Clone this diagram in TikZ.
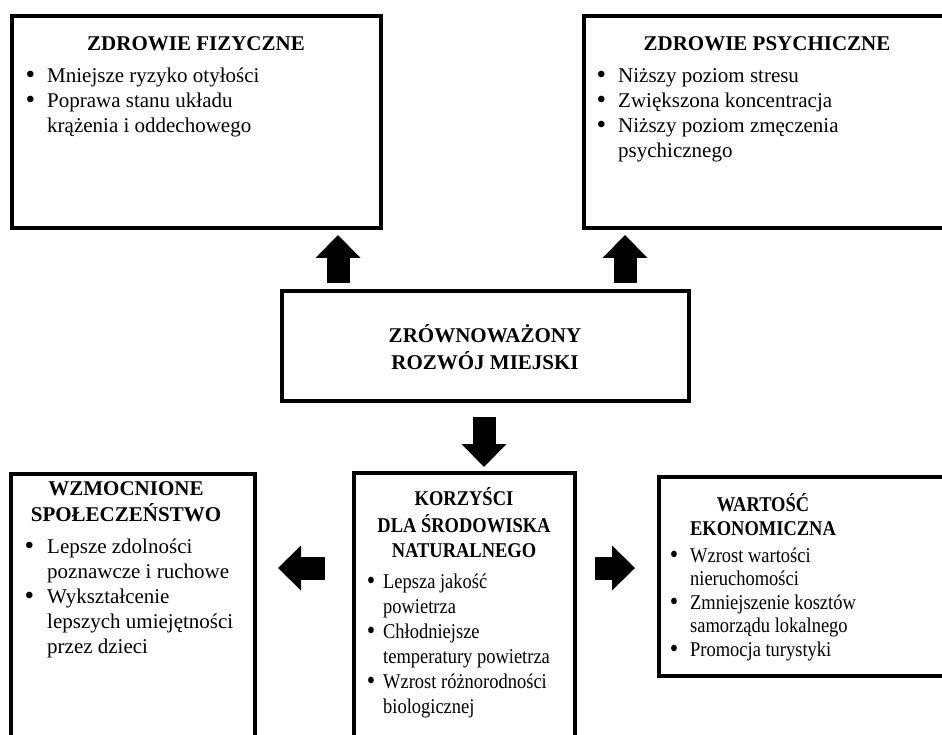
\documentclass[tikz,border=0pt]{standalone}
\usepackage{fontspec}
\setmainfont{Liberation Serif}
\usetikzlibrary{arrows.meta}
\newcommand{\bpt}[1]{\strut\makebox[#1][l]{\raisebox{-1pt}{\scalebox{1.3}{\textbullet}}}}
\newcommand{\bcnt}[1]{\strut\hspace*{#1}}

\begin{document}
\begin{tikzpicture}
[x=1pt,y=-1pt,
 box/.style={draw,line width=4pt,anchor=north west,inner sep=0pt},
 ttl/.style={anchor=north,align=center,inner sep=0pt,font=\fontsize{21}{25}\selectfont\bfseries},
 lst/.style={anchor=north west,align=left,inner sep=0pt,font=\fontsize{21}{25}\selectfont},
 blk/.style={line width=23pt,-{Triangle[width=45pt,length=23pt,line width=0pt]}}]
\useasboundingbox (0,0) rectangle (942,735);
\clip (0,0) rectangle (942,735);
% boxes
\node[box,minimum width=369pt,minimum height=212pt] (fiz) at (10,14) {};
\node[box,minimum width=366pt,minimum height=212pt] (psy) at (582,14) {};
\node[box,minimum width=407pt,minimum height=110pt] (ctr) at (280,289) {};
\node[box,minimum width=244pt,minimum height=284pt] (soc) at (9,472) {};
\node[box,minimum width=221pt,minimum height=285pt] (env) at (352,471) {};
\node[box,minimum width=299pt,minimum height=199pt] (eco) at (657,475) {};
% texts
\node[ttl] (fizt) at (196,32.5) {\strut ZDROWIE FIZYCZNE};
\node[lst] (fizl) at (25.3,65) {\bpt{21.7pt}Mniejsze ryzyko otyłości\\
 \bpt{21.7pt}Poprawa stanu układu\\ \bcnt{21.7pt}krążenia i oddechowego};
\node[ttl] (psyt) at (767,32.5) {\strut ZDROWIE PSYCHICZNE};
\node[lst] (psyl) at (596.3,64.5) {\bpt{21.7pt}Niższy poziom stresu\\
 \bpt{21.7pt}Zwiększona koncentracja\\ \bpt{21.7pt}Niższy poziom zmęczenia\\
 \bcnt{21.7pt}psychicznego};
\node[ttl] (ctrt) at (485,324.5) {\strut ZRÓWNOWAŻONY\\ ROZWÓJ MIEJSKI};
\node[ttl] (soct) at (126,477.5) {\strut WZMOCNIONE\\ SPOŁECZEŃSTWO};
\node[lst] (socl) at (24.3,535.5) {\bpt{22.7pt}Lepsze zdolności\\
 \bcnt{22.7pt}poznawcze i ruchowe\\ \bpt{22.7pt}Wykształcenie\\
 \bcnt{22.7pt}lepszych umiejętności\\ \bcnt{22.7pt}przez dzieci};
\node[ttl,xscale=0.88] (envt) at (464,487.5) {\strut KORZYŚCI\\ DLA ŚRODOWISKA\\ NATURALNEGO};
\node[lst,xscale=0.88] (envl) at (366.7,570.5) {\bpt{18.5pt}Lepsza jakość\\
 \bcnt{18.5pt}powietrza\\ \bpt{18.5pt}Chłodniejsze\\
 \bcnt{18.5pt}temperatury powietrza\\ \bpt{18.5pt}Wzrost różnorodności\\
 \bcnt{18.5pt}biologicznej};
\node[ttl,xscale=0.88,font=\fontsize{21}{23.5}\selectfont\bfseries] (ecot) at (763,493.5) {\strut WARTOŚĆ\\ EKONOMICZNA};
\node[lst,xscale=0.88,font=\fontsize{21}{23.5}\selectfont] (ecol) at (669.7,545.5) {\bpt{23pt}Wzrost wartości\\
 \bcnt{23pt}nieruchomości\\ \bpt{23pt}Zmniejszenie kosztów\\
 \bcnt{23pt}samorządu lokalnego\\ \bpt{23pt}Promocja turystyki};
% arrows
\coordinate (up1) at (338,0);
\coordinate (up2) at (625,0);
\coordinate (dn) at (484,0);
\coordinate (lvl) at (0,568);
\draw[blk,shorten <=6pt,shorten >=5pt] (ctr.north -| up1) -- (fiz.south -| up1);
\draw[blk,shorten <=6pt,shorten >=5pt] (ctr.north -| up2) -- (psy.south -| up2);
\draw[blk,shorten <=14pt,shorten >=4pt] (ctr.south -| dn) -- (env.north -| dn);
\draw[blk,shorten <=27pt,shorten >=21pt] (env.west |- lvl) -- (soc.east |- lvl);
\draw[blk,shorten <=18pt,shorten >=22pt] (env.east |- lvl) -- (eco.west |- lvl);
\end{tikzpicture}
\end{document}
